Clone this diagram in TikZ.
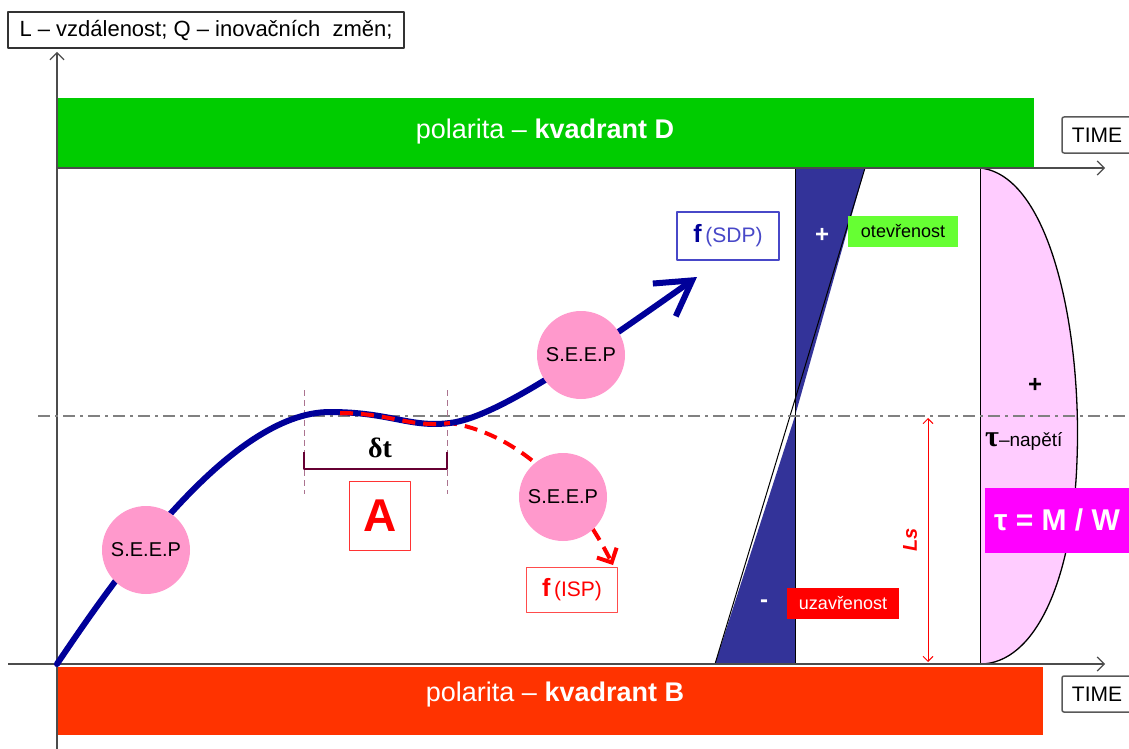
\documentclass[tikz,border=0pt]{standalone}
\usepackage{fontspec}
\setmainfont{Liberation Sans}
\newfontfamily\serifbold{Liberation Serif}
\usepackage{xcolor}
\definecolor{barGreen}{HTML}{00CC00}
\definecolor{barRed}{HTML}{FF3300}
\definecolor{curveBlue}{HTML}{000099}
\definecolor{wedgeBlue}{HTML}{333399}
\definecolor{seepPink}{HTML}{FF99CC}
\definecolor{stressPink}{HTML}{FFCCFF}
\definecolor{openGreen}{HTML}{66FF33}
\definecolor{sdpBlue}{HTML}{4848C8}
\definecolor{bracketPurple}{HTML}{660033}
\definecolor{tauMagenta}{HTML}{FF00FF}
\usetikzlibrary{arrows.meta,positioning}

\newcommand{\fs}[1]{\fontsize{#1}{#1}\selectfont}

\begin{document}
\begin{tikzpicture}[x=1pt, y=-1pt, line join=round,
  seep/.style={circle, fill=seepPink, minimum size=88pt, inner sep=0pt, font=\fs{20}},
  timebox/.style={draw=black!65, line width=1.5pt, rounded corners=2pt, fill=white,
    minimum width=70pt, minimum height=36pt, inner sep=0pt, font=\fs{21}},
  tag/.style={minimum width=110pt, minimum height=31pt, inner sep=0pt, font=\fs{18}},
  axis/.style={black!70, line width=1.2pt, -{Straight Barb[length=7pt,width=14pt]}},
  flux/.style={curveBlue, line width=6pt, line cap=round},
  fbox/.style={line width=1.5pt, fill=white, inner sep=0pt, font=\fs{21}}]
  \useasboundingbox (0,0) rectangle (1129,749);
  % quadrant bars
  \fill[barGreen] (57,98) rectangle (1034,168);
  \node[white, font=\fs{27}] (kvD) at (545,132) {polarita -- \textbf{kvadrant D}};
  \fill[barRed] (57,667) rectangle (1043,735);
  \node[white, font=\fs{27}] (kvB) at (555,695) {polarita -- \textbf{kvadrant B}};
  % stress diagram
  \fill[stressPink] (980,168) .. controls (1050,175) and (1082,330) .. (1077,460)
    .. controls (1073,580) and (1035,664) .. (980,664) -- cycle;
  \draw[line width=1.3pt] (980,168) .. controls (1050,175) and (1082,330) .. (1077,460)
    .. controls (1073,580) and (1035,664) .. (980,664);
  % open / closed wedge
  \coordinate (wTop) at (865,168);
  \coordinate (wBot) at (715,664);
  \coordinate (wMid) at (795,416);
  \fill[wedgeBlue] (795,168) -- (wTop) -- (wMid) -- cycle;
  \fill[wedgeBlue] (wMid) -- (795,664) -- (wBot) -- cycle;
  \draw[line width=1pt] (wTop) -- (wBot);
  \draw[line width=1pt] (795,168) -- (795,664);
  \draw[line width=1pt] (980,168) -- (980,664);
  % axes
  \draw[axis] (57,749) -- (57,52);
  \draw[axis] (57,168) -- (1105,168);
  \draw[axis] (8,664) -- (1105,664);
  \node[timebox] (timeD) at (1097,135) {TIME};
  \node[timebox] (timeB) at (1097,694) {TIME};
  \node[draw=black!80, line width=1.2pt, minimum width=396pt, minimum height=36pt,
    inner sep=0pt, font=\fs{22}] (legend) at (206,30) {L -- vzdálenost; Q -- inovačních \ změn;};
  % zero level
  \draw[black!50, line width=2.5pt, dash pattern=on 12pt off 5pt on 3pt off 5pt]
    (38,416) -- (1129,416);
  % delta t bracket
  \draw[bracketPurple!55, line width=0.9pt, dash pattern=on 6pt off 4pt] (304,390) -- (304,494);
  \draw[bracketPurple!55, line width=0.9pt, dash pattern=on 6pt off 4pt] (447,390) -- (447,494);
  \draw[bracketPurple, line width=2.5pt] (304,452) -- (304,469) -- (447,469) -- (447,452);
  \node[font=\serifbold\bfseries\fs{28}] (dt) at (380,448) {δt};
  \node[draw=red!80, line width=1.2pt, minimum width=61pt, minimum height=69pt, inner sep=0pt,
    text=red, font=\bfseries\fs{46}] (A) at (380,516) {A};
  % flux curves
  \coordinate (origin) at (57,664);
  \coordinate (platL) at (330,412);
  \coordinate (platR) at (450,423);
  \coordinate (sdpTip) at (697,277);
  \coordinate (ispTip) at (613,565);
  \draw[red, line width=4pt, dash pattern=on 13pt off 8pt, -{Straight Barb[length=11pt,width=22pt]}]
    (340,413) .. controls (390,413) and (410,428) .. (platR)
    .. controls (510,432) and (570,480) .. (ispTip);
  \draw[flux, -{Straight Barb[length=34pt,width=40pt]}]
    (origin) .. controls (115,578) and (230,412) .. (platL)
    .. controls (390,412) and (410,428) .. (platR)
    .. controls (500,417) and (600,345) .. (sdpTip);
  \draw[red, line width=4pt, dash pattern=on 13pt off 8pt]
    (340,413) .. controls (390,413) and (410,428) .. (platR);
  % S.E.E.P points
  \node[seep] (seep1) at (146,550) {S.E.E.P};
  \node[seep] (seep2) at (581,355) {S.E.E.P};
  \node[seep] (seep3) at (563,497) {S.E.E.P};
  % function boxes
  \node[fbox, draw=sdpBlue, minimum width=102pt, minimum height=48pt] (sdp) at (728,236)
    {\textcolor{curveBlue}{\fs{25}\textbf{f}}\,\textcolor{sdpBlue}{(SDP)}};
  \node[fbox, draw=red!70, minimum width=91pt, minimum height=45pt, text=red] (isp) at (572,590)
    {{\fs{25}\textbf{f}}\,(ISP)};
  % wedge labels
  \node[white, font=\bfseries\fs{24}] (plusW) at (822,235) {+};
  \node[white, font=\bfseries\fs{24}] (minusW) at (764,604) {-};
  \node[tag, fill=openGreen] (open) at (903,231) {otevřenost};
  \node[tag, fill=red, text=white, minimum width=112pt] (closed) at (843,603) {uzavřenost};
  % stress labels
  \coordinate (lsTop) at (928,418);
  \coordinate (lsBot) at (928,662);
  \draw[red, line width=0.9pt, {Straight Barb[length=5pt,width=10pt]}-{Straight Barb[length=5pt,width=10pt]}]
    (lsTop) -- (lsBot);
  \node[red, rotate=90, font=\bfseries\itshape\fs{20}] (ls) at (910,540) {Ls};
  \node[font=\bfseries\fs{24}] (plusS) at (1035,385) {+};
  \node[anchor=west, inner sep=0pt, font=\fs{19}] (tauLbl) at (985,441)
    {{\serifbold\bfseries\fs{30}τ}--napětí};
  \node[fill=tauMagenta, text=white, minimum width=144pt, minimum height=65pt, inner sep=0pt,
    font=\bfseries\fs{30}] (tau) at (1057,520) {τ = M / W};
\end{tikzpicture}
\end{document}
